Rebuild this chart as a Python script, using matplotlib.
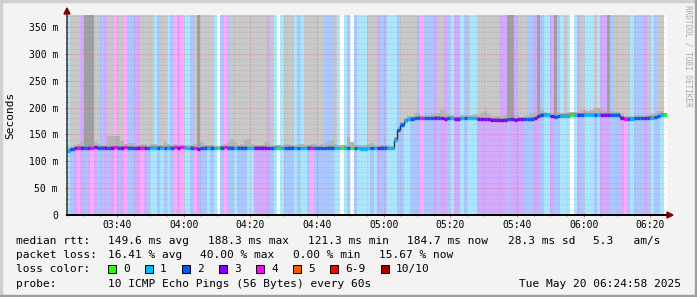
import numpy as np
import matplotlib
matplotlib.use('Agg')
import matplotlib.pyplot as plt
from matplotlib.patches import Rectangle, Polygon

plt.rcParams['font.family'] = 'DejaVu Sans Mono'
plt.rcParams['font.size'] = 8

# one column per minute, 03:25 .. 06:25
# lost pings (of 10) in each minute
loss = [1, 2, 3, 4, 3, 2, 3, 4, 3, 2, 2, 3, 2, 3, 4, 2, 3, 4, 2, 2,
        3, 3, 4, 3, 2, 1, 1, 2, 1, 2, 1, 2, 4, 3, 4, 1, 1, 2, 4, 3,
        2, 2, 1, 2, 1, 0, 2, 4, 2, 2, 1, 2, 2, 2, 1, 1, 3, 3, 3, 3,
        3, 2, 1, 0, 1, 2, 2, 2, 1, 2, 1, 1, 2, 4, 2, 2, 2, 2, 2, 2,
        1, 1, 0, 1, 2, 0, 2, 1, 1, 1, 1, 2, 1, 3, 2, 2, 1, 1, 1, 2,
        2, 1, 1, 2, 2, 2, 4, 2, 2, 2, 3, 2, 3, 3, 2, 1, 3, 3, 1, 2,
        1, 1, 1, 3, 3, 3, 3, 3, 3, 3, 3, 3, 2, 3, 3, 3, 3, 2, 2, 2,
        3, 3, 2, 1, 1, 3, 2, 2, 1, 1, 1, 0, 1, 3, 2, 1, 1, 1, 2, 1,
        3, 3, 3, 2, 2, 2, 3, 4, 2, 1, 2, 2, 2, 3, 2, 1, 2, 2, 1, 0]

# smoke running off the top: 0 none, 1 light, 2 dark
smoke_top = [0, 1, 1, 1, 0, 2, 2, 2, 1, 1, 0, 0, 1, 1, 0, 1, 1, 0, 0, 0,
             0, 0, 1, 1, 1, 1, 0, 0, 1, 1, 0, 0, 0, 0, 0, 0, 0, 0, 1, 2,
             1, 1, 1, 1, 0, 0, 0, 0, 0, 1, 1, 1, 1, 1, 1, 1, 1, 1, 1, 1,
             0, 1, 0, 0, 0, 1, 1, 1, 0, 0, 0, 1, 1, 1, 1, 1, 1, 0, 0, 0,
             1, 0, 0, 0, 0, 0, 0, 0, 0, 0, 1, 1, 1, 0, 0, 0, 0, 0, 0, 0,
             1, 1, 1, 1, 1, 0, 0, 0, 0, 0, 0, 1, 1, 0, 0, 0, 0, 0, 0, 0,
             1, 0, 0, 1, 1, 1, 1, 1, 1, 1, 0, 0, 2, 2, 0, 1, 1, 1, 0, 0,
             0, 2, 0, 0, 0, 0, 2, 0, 0, 1, 0, 0, 0, 0, 1, 0, 0, 0, 1, 0,
             0, 0, 2, 0, 1, 1, 1, 1, 1, 0, 0, 0, 0, 0, 1, 0, 0, 1, 1, 0]

# median rtt (ms)
median = [120, 122, 124, 125, 125, 124, 125, 125, 126, 125, 125, 125, 124, 125, 126, 125, 125, 126, 125, 125,
          124, 125, 125, 125, 124, 125, 125, 125, 125, 124, 125, 125, 126, 125, 126, 125, 124, 125, 124, 123,
          124, 125, 125, 125, 124, 124, 125, 126, 125, 125, 124, 125, 125, 125, 124, 124, 125, 125, 125, 125,
          124, 124, 125, 125, 124, 124, 125, 125, 124, 124, 124, 124, 125, 125, 124, 124, 124, 124, 125, 125,
          124, 124, 124, 125, 124, 124, 124, 124, 123, 123, 124, 124, 124, 124, 125, 125, 124, 124, 140, 158,
          168, 175, 178, 179, 180, 181, 180, 180, 180, 180, 181, 181, 180, 179, 180, 180, 179, 179, 180, 180,
          180, 180, 180, 179, 178, 178, 178, 177, 177, 177, 176, 177, 178, 178, 177, 178, 178, 178, 178, 179,
          180, 184, 186, 186, 186, 184, 183, 184, 185, 185, 185, 186, 186, 186, 187, 187, 187, 187, 187, 187,
          187, 187, 187, 187, 187, 186, 181, 179, 179, 179, 180, 180, 180, 180, 181, 181, 182, 184, 186, 186]

# highest visible ping (ms)
smoke = [126, 127, 130, 133, 135, 138, 138, 136, 135, 132, 131, 131, 147, 147, 147, 147, 138, 133, 134, 134,
         131, 131, 133, 132, 131, 133, 133, 131, 131, 136, 133, 131, 132, 131, 131, 131, 131, 131, 133, 138,
         135, 131, 130, 130, 129, 129, 131, 132, 136, 141, 136, 131, 133, 140, 141, 133, 131, 131, 131, 136,
         136, 131, 130, 130, 131, 132, 132, 131, 130, 132, 132, 131, 131, 132, 133, 131, 133, 134, 138, 138,
         133, 131, 130, 131, 145, 136, 131, 130, 130, 130, 132, 134, 131, 129, 130, 130, 130, 129, 145, 163,
         173, 180, 184, 185, 190, 190, 187, 186, 186, 188, 188, 190, 195, 194, 188, 186, 185, 185, 186, 186,
         186, 186, 188, 186, 190, 193, 188, 184, 184, 185, 185, 186, 195, 190, 186, 184, 183, 184, 186, 190,
         190, 195, 195, 192, 190, 189, 195, 192, 190, 190, 191, 191, 191, 192, 195, 195, 193, 195, 199, 199,
         195, 193, 195, 193, 192, 192, 188, 185, 185, 185, 186, 186, 186, 186, 187, 188, 190, 193, 193, 190]

tick_labels = ['03:40', '04:00', '04:20', '04:40', '05:00', '05:20', '05:40', '06:00', '06:20']
y_labels = ['0', '50 m', '100 m', '150 m', '200 m', '250 m', '300 m', '350 m']

legend_labels = ['0', '1', '2', '3', '4', '5', '6-9', '10/10']
legend_colors = ['#26ff00', '#00b8ff', '#0059ff', '#7e00ff', '#ff00ff', '#ff5500', '#ff0000', '#a00000']
back_colors = ['#ffffff', '#aae7ff', '#aac7ff', '#d4aaff', '#ffaaff']

W, H = 697, 297
YMAX = 372.4


def fx(x):
    return x / W


def fy(y):
    return 1 - y / H


fig = plt.figure(figsize=(W / 100, H / 100), dpi=100, facecolor='#f3f3f3')
ax = fig.add_axes([fx(67), fy(215), 600 / W, 200 / H])
ax.set_facecolor('white')

x = np.arange(len(loss))
med = np.array(median, dtype=float)
smk = np.array(smoke, dtype=float)
top = np.array(smoke_top)

# loss background
ax.bar(x, YMAX, width=1, align='edge', color=[back_colors[l] for l in loss],
       linewidth=0, zorder=1)
# smoke
ax.bar(x, smk - (med - 2), bottom=med - 2, width=1, align='edge',
       color='#b4b4b4', linewidth=0, zorder=1.2)
m1 = top == 1
ax.bar(x[m1], YMAX - smk[m1], bottom=smk[m1], width=1, align='edge',
       color='#c8c8c8', linewidth=0, zorder=1.3)
m2 = top == 2
ax.bar(x[m2], YMAX - med[m2], bottom=med[m2], width=1, align='edge',
       color='#a0a0a0', linewidth=0, zorder=1.3)
ax.bar(x, 5, bottom=med - 2, width=1, align='edge', color='#8c8c8c',
       linewidth=0, zorder=1.4)

# median line, coloured by loss
ax.vlines(x[1:], med[:-1], med[1:], color='#303030', linewidth=1.0, zorder=3)
ax.hlines(med, x, x + 1, colors=[legend_colors[l] for l in loss],
          linewidth=2.4, zorder=3.2)

ax.set_xlim(0, 180)
ax.set_ylim(0, YMAX)
ax.set_xticks(np.arange(15, 180, 20))
ax.set_xticklabels(tick_labels)
ax.set_xticks(np.arange(0, 181, 5), minor=True)
ax.set_yticks(np.arange(0, 351, 50))
ax.set_yticklabels(y_labels)
ax.set_yticks(np.arange(0, 371, 10), minor=True)

ax.set_axisbelow(False)
ax.grid(which='minor', color='#888888', alpha=0.35, linestyle=(0, (1, 2)),
        linewidth=0.72)
ax.grid(which='major', color='#e05050', alpha=0.55, linestyle=(0, (1, 2)),
        linewidth=0.72)

ax.tick_params(which='major', length=3, width=0.72, direction='inout',
               color='#e07070', labelsize=7, pad=2)
ax.tick_params(which='minor', length=2, width=0.72, direction='inout',
               color='#909090')
ax.tick_params(axis='y', pad=5)

for s in ['top', 'right']:
    ax.spines[s].set_visible(False)
ax.spines['left'].set_color('#404040')
ax.spines['left'].set_linewidth(1.2)
ax.spines['bottom'].set_color('black')
ax.spines['bottom'].set_linewidth(1.4)
ax.spines['left'].set_zorder(4)
ax.spines['bottom'].set_zorder(4)

# axis arrows
fig.patches.append(Polygon([(fx(64), fy(14)), (fx(70), fy(14)), (fx(67), fy(8))],
                           closed=True, color='#7f0000', transform=fig.transFigure))
fig.patches.append(Polygon([(fx(667), fy(212)), (fx(667), fy(218)), (fx(673), fy(215))],
                           closed=True, color='#7f0000', transform=fig.transFigure))

fig.text(fx(10), fy(115), 'Seconds', rotation=90, ha='center', va='center', fontsize=8)
fig.text(fx(688), fy(5), 'RRDTOOL / TOBI OETIKER', rotation=270, ha='center', va='top',
         fontsize=5.5, color='#a8a8a8')

# legend block
fs = 8
row1 = ['149.6 ms avg', '188.3 ms max', '121.3 ms min', '184.7 ms now', '28.3 ms sd', '5.3   am/s']
row1_x = [107.5, 207.5, 307.5, 407.5, 507.5, 593]
fig.text(fx(16), fy(241), 'median rtt:', va='center', fontsize=fs)
for t, px in zip(row1, row1_x):
    fig.text(fx(px), fy(241), t, va='center', fontsize=fs)

row2 = ['16.41 % avg', '40.00 % max', '0.00 % min', '15.67 % now']
row2_x = [107.5, 200, 293, 379]
fig.text(fx(16), fy(255), 'packet loss:', va='center', fontsize=fs)
for t, px in zip(row2, row2_x):
    fig.text(fx(px), fy(255), t, va='center', fontsize=fs)

box_x = [108, 145, 182, 219, 256, 293, 330, 381]
fig.text(fx(16), fy(269), 'loss color:', va='center', fontsize=fs)
for lab, col, bx in zip(legend_labels, legend_colors, box_x):
    fig.patches.append(Rectangle((fx(bx), fy(273)), 8 / W, 8 / H, facecolor=col,
                                 edgecolor='black', linewidth=0.7, transform=fig.transFigure))
    fig.text(fx(bx + 15), fy(269), lab, va='center', fontsize=fs)

fig.text(fx(16), fy(284), 'probe:', va='center', fontsize=fs)
fig.text(fx(107.5), fy(284), '10 ICMP Echo Pings (56 Bytes) every 60s', va='center', fontsize=fs)
fig.text(fx(681), fy(284), 'Tue May 20 06:24:58 2025', va='center', ha='right', fontsize=fs)

# frame shading
fig.patches.append(Rectangle((0, fy(2)), 1, 2 / H, color='#cfcfcf', transform=fig.transFigure))
fig.patches.append(Rectangle((0, 0), 2 / W, 1, color='#cfcfcf', transform=fig.transFigure))
fig.patches.append(Rectangle((0, 0), 1, 2 / H, color='#9e9e9e', transform=fig.transFigure))
fig.patches.append(Rectangle((1 - 2 / W, 0), 2 / W, 1, color='#9e9e9e', transform=fig.transFigure))

fig.savefig('out.png', dpi=100, facecolor=fig.get_facecolor())
